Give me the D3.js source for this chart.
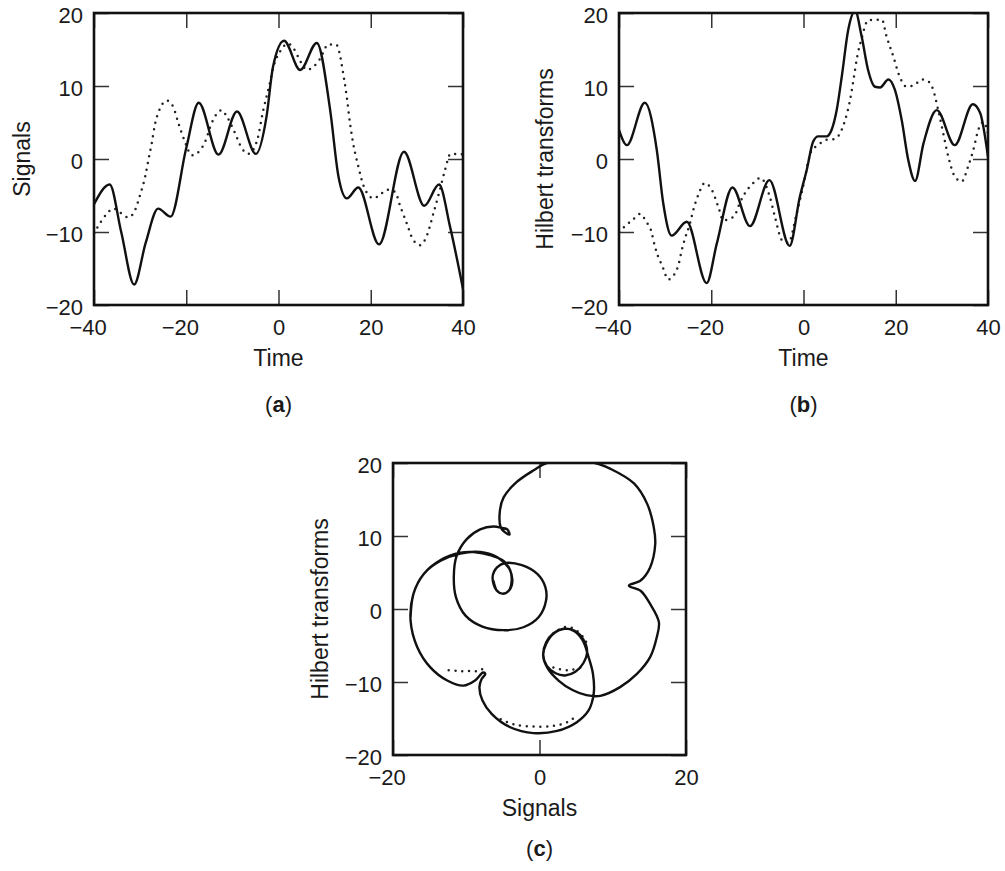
<!DOCTYPE html>
<html>
<head>
<meta charset="utf-8">
<script src="https://cdn.jsdelivr.net/npm/d3@7"></script>
<style>
  body { margin: 0; background: #fff; }
  svg text { font-family: "Liberation Sans", Arial, Helvetica, sans-serif; fill: #1a1a1a; }
</style>
</head>
<body>
<div id="chart"></div>
<script>
// ---- data ----
const timeTicks = [-40, -20, 0, 20, 40];
const valueTicks = [-20, -10, 0, 10, 20];
const signalTicks = [-20, 0, 20];

// (a) signals, solid
const solidTimeA = [-40, -36.6, -34.1, -31.3, -28.8, -26.1, -23.4, -20, -17.3, -13.0, -9.0, -4.9, -2.6, -1.2, 1.2, 4.7, 8.3, 11.2, 13.0, 14.8, 17.3, 21.8, 27.2, 31.6, 34.8, 37.2, 40];
const solidSignalA = [-6.2, -3.5, -10.0, -17.2, -11.5, -6.8, -7.9, 1.5, 7.7, 0.6, 6.5, 0.7, 5.8, 12.6, 16.2, 12.2, 15.9, 6.7, -2.4, -5.4, -3.9, -11.7, 1.0, -6.4, -3.5, -9.3, -17.8];

// (a) signals, dotted
const dotTimeA = [-40, -38.3, -37.2, -35.8, -32.6, -31.1, -30.0, -28.9, -28.2, -27.5, -26.8, -25.7, -24.2, -22.8, -21.7, -20.3, -18.8, -17.0, -15.9, -14.5, -12.3, -11.2, -9.4, -8.0, -6.5, -4.7, -3.3, -1.8, -1.1, 0.3, 2.1, 3.2, 5.0, 6.1, 7.5, 9.0, 10.8, 12.5, 13.2, 13.9, 14.8, 15.5, 16.2, 17.3, 18.4, 19.5, 20.6, 22.0, 23.5, 25.3, 26.3, 27.8, 29.2, 30.7, 32.1, 33.6, 35.0, 36.1, 37.3, 39.0, 40];
const dotSignalA = [-10.2, -8.4, -7.5, -6.8, -8.0, -7.0, -4.9, -2.4, -0.1, 2.1, 4.7, 6.9, 8.0, 7.1, 4.9, 2.4, 0.5, 1.2, 2.4, 4.9, 6.7, 5.8, 3.5, 1.5, 0.7, 2.4, 6.7, 10.6, 12.6, 14.7, 15.8, 15.2, 13.1, 12.2, 12.6, 13.7, 15.7, 15.7, 14.6, 12.2, 8.5, 4.9, 2.1, -1.0, -3.6, -4.9, -5.4, -4.9, -4.2, -4.5, -6.3, -8.8, -11.1, -11.8, -10.6, -7.4, -4.2, -1.5, 0.7, 0.7, 0.6];

// (b) Hilbert transforms, solid
const solidTimeB = [-40, -38.3, -34.4, -31.8, -30.4, -28.6, -25.3, -21.0, -18.8, -15.4, -11.6, -7.4, -3.0, -0.8, 0.7, 2.1, 3.2, 5.0, 6.1, 7.2, 8.3, 9.7, 11.2, 12.6, 14.0, 15.5, 16.6, 18.4, 19.8, 21.3, 22.7, 24.2, 26.0, 28.9, 32.8, 36.7, 38.3, 40];
const solidHilbertB = [4.0, 1.9, 7.7, 1.2, -6.1, -10.5, -8.6, -17.0, -11.6, -3.9, -9.2, -2.9, -11.9, -5.2, -1.5, 2.4, 3.1, 3.1, 4.0, 6.7, 11.3, 17.7, 20.3, 16.8, 12.2, 9.9, 9.8, 10.9, 9.5, 5.3, -0.1, -3.0, 2.1, 6.7, 1.9, 7.5, 6.3, 0.3];

// (b) Hilbert transforms, dotted
const dotTimeB = [-40, -38.7, -37.0, -35.4, -34.1, -33.1, -32.2, -31.5, -30.7, -29.3, -27.9, -27.1, -26.4, -25.7, -24.6, -23.9, -22.8, -21.4, -19.9, -18.5, -17.4, -15.1, -13.8, -12.7, -10.9, -9.3, -7.3, -6.2, -4.7, -3.3, -1.5, 0.3, 1.0, 1.8, 3.2, 4.7, 6.5, 7.9, 9.0, 10.1, 10.9, 11.7, 12.6, 14.0, 17.0, 18.0, 19.5, 20.6, 22.4, 24.2, 25.6, 27.1, 28.1, 29.2, 30.3, 31.4, 32.8, 34.3, 35.7, 36.8, 37.9, 39.0, 40];
const dotHilbertB = [-10.0, -9.2, -8.3, -7.5, -8.6, -9.7, -12.0, -13.4, -14.5, -16.5, -15.7, -14.5, -12.5, -10.9, -8.8, -7.0, -4.9, -3.3, -4.2, -6.5, -8.4, -7.9, -6.0, -4.7, -3.3, -2.6, -5.2, -7.9, -11.1, -11.5, -7.5, -2.6, -0.4, 1.2, 1.9, 2.6, 2.7, 3.5, 5.3, 8.1, 11.1, 14.2, 16.5, 19.0, 19.1, 16.8, 14.0, 11.7, 9.9, 10.2, 10.9, 10.6, 9.5, 6.7, 3.5, 0.3, -2.4, -3.1, -1.0, 1.2, 4.0, 5.1, 3.5];

// (c) Hilbert transform against signal, solid trace
const cSignal = [-6.3, -5.8, -5.1, -4.2, -3.8, -4.0, -4.7, -5.8, -8.1, -10.8, -13.5, -15.8, -17.2, -17.6, -16.7, -14.9, -12.6, -10.4, -8.8, -7.7, -7.4, -7.9, -8.2, -7.8, -6.5, -4.0, -0.8, 2.4, 5.1, 6.7, 7.4, 7.3, 6.7, 5.9, 4.7, 3.3, 1.9, 0.9, 0.5, 1.0, 2.2, 3.5, 4.9, 6.0, 6.5, 6.0, 4.8, 3.4, 2.0, 0.9, 0.5, 1.1, 2.6, 4.5, 6.4, 8.3, 11.0, 13.3, 15.1, 16.0, 16.3, 15.1, 13.8, 12.2, 13.8, 15.1, 15.8, 15.6, 14.7, 12.9, 9.7, 7.6, 4.2, 1.0, -0.8, -3.1, -4.9, -5.4, -5.3, -4.7, -4.1, -4.4, -5.1, -6.3, -8.1, -9.9, -11.3, -11.7, -11.4, -10.1, -7.8, -4.9, -2.2, -0.1, 0.9, 0.8, -0.3, -2.4, -4.7, -5.8, -6.4, -5.9, -5.0, -4.1, -3.7, -4.1, -4.9, -6.5, -9.0, -10.8, -13.5, -15.8, -17.2, -17.6];
const cHilbert = [3.9, 2.5, 2.1, 2.5, 3.9, 5.3, 6.2, 7.1, 7.8, 7.6, 6.6, 4.8, 2.1, -1.6, -5.2, -8.0, -9.8, -10.5, -9.8, -8.7, -8.9, -9.6, -10.7, -12.5, -14.4, -16.2, -17.0, -16.7, -15.5, -13.9, -11.6, -8.9, -6.6, -4.3, -3.0, -2.7, -3.3, -4.6, -6.2, -7.8, -8.8, -9.1, -8.6, -7.4, -5.8, -4.2, -3.0, -2.7, -3.3, -4.8, -6.4, -8.1, -9.8, -11.1, -11.8, -11.9, -10.7, -8.9, -6.6, -3.9, -1.8, 0.7, 2.5, 3.2, 3.9, 5.7, 8.9, 11.2, 14.4, 17.2, 19.2, 20.0, 20.3, 20.0, 19.0, 17.4, 15.3, 13.5, 11.2, 10.5, 10.2, 10.9, 11.1, 11.3, 10.9, 9.6, 7.3, 4.4, 1.6, -0.9, -2.4, -2.9, -2.5, -1.1, 1.2, 3.0, 4.8, 6.0, 6.3, 5.7, 4.4, 2.6, 2.1, 2.6, 3.9, 5.5, 6.6, 7.3, 7.8, 7.7, 6.7, 4.8, 2.1, -1.1];

// (c) dotted trace, only where it shows beside the solid one
const cDotSignal = [[-12.4, -11.0, -9.5, -8.0, -7.4], [-5.3, -3.5, -0.8, 1.9, 3.8, 5.1], [1.9, 3.3, 4.7, 6.0, 6.5], [1.9, 3.8, 5.6]];
const cDotHilbert = [[-8.4, -8.5, -8.5, -8.4, -7.5], [-15.1, -15.8, -16.1, -16.0, -15.5, -14.6], [-3.4, -2.5, -2.7, -3.9, -4.8], [-8.0, -8.4, -8.0]];

// ---- drawing ----
const svg = d3.select("#chart").append("svg")
    .attr("width", 1005)
    .attr("height", 871);

const fmt = d => d < 0 ? "\u2212" + Math.abs(d) : String(d);
const TICK = 15;

function drawPanel(p) {
    const x = d3.scaleLinear().domain(p.xDomain).range([p.left, p.right]);
    const y = d3.scaleLinear().domain([-20, 20]).range([p.bottom, p.top]);
    const g = svg.append("g");

    svg.append("clipPath").attr("id", "clip-" + p.tag)
        .append("rect")
        .attr("x", p.left).attr("y", p.top)
        .attr("width", p.right - p.left).attr("height", p.bottom - p.top);

    const axes = [
        g.append("g").attr("transform", `translate(0,${p.bottom})`)
            .call(d3.axisBottom(x).tickValues(p.xTicks).tickSizeInner(-TICK).tickSizeOuter(0).tickPadding(14).tickFormat(fmt)),
        g.append("g").attr("transform", `translate(0,${p.top})`)
            .call(d3.axisTop(x).tickValues(p.xTicks).tickSizeInner(-TICK).tickSizeOuter(0).tickFormat("")),
        g.append("g").attr("transform", `translate(${p.left},0)`)
            .call(d3.axisLeft(y).tickValues(valueTicks).tickSizeInner(-TICK).tickSizeOuter(0).tickPadding(11).tickFormat(fmt)),
        g.append("g").attr("transform", `translate(${p.right},0)`)
            .call(d3.axisRight(y).tickValues(valueTicks).tickSizeInner(-TICK).tickSizeOuter(0).tickFormat(""))
    ];
    axes.forEach(a => {
        a.attr("font-size", 22).attr("font-family", null).attr("color", "#1a1a1a");
        a.select(".domain").remove();
        a.selectAll(".tick line").attr("stroke", "#333").attr("stroke-width", 1.5);
    });
    // negative x labels: centre the digits, let the minus sign hang left
    axes[0].selectAll(".tick text").attr("dx", d => d < 0 ? -6.4 : 0);
    axes[2].selectAll(".tick text").attr("dy", "0.45em");

    const midX = (p.left + p.right) / 2, midY = (p.top + p.bottom) / 2;
    g.append("text")
        .attr("x", midX).attr("y", p.bottom + 53)
        .attr("text-anchor", "middle").attr("dominant-baseline", "central")
        .attr("font-size", 23)
        .text(p.xTitle);
    g.append("text")
        .attr("transform", `translate(${p.yTitleX},${midY}) rotate(-90)`)
        .attr("text-anchor", "middle").attr("dominant-baseline", "central")
        .attr("font-size", 23)
        .text(p.yTitle);
    const tag = g.append("text")
        .attr("x", midX).attr("y", p.tagY)
        .attr("text-anchor", "middle").attr("dominant-baseline", "central")
        .attr("font-size", 22);
    tag.append("tspan").text("(");
    tag.append("tspan").attr("font-weight", "bold").text(p.tag);
    tag.append("tspan").text(")");

    const plot = g.append("g").attr("clip-path", `url(#clip-${p.tag})`);
    return { x, y, g, plot, p };
}

function solid(sel, d) {
    sel.append("path").attr("d", d)
        .attr("fill", "none").attr("stroke", "#111")
        .attr("stroke-width", 2.4).attr("stroke-linejoin", "round");
}
function dotted(sel, d) {
    sel.append("path").attr("d", d)
        .attr("fill", "none").attr("stroke", "#222")
        .attr("stroke-width", 2.5).attr("stroke-linecap", "round")
        .attr("stroke-dasharray", "0 6.8");
}
function frame(panel) {
    const p = panel.p;
    panel.g.append("rect")
        .attr("x", p.left).attr("y", p.top)
        .attr("width", p.right - p.left).attr("height", p.bottom - p.top)
        .attr("fill", "none").attr("stroke", "#111").attr("stroke-width", 2.6);
}

// (a)
const pa = drawPanel({ tag: "a", left: 94, right: 463, top: 13, bottom: 305, xDomain: [-40, 40], xTicks: timeTicks,
    xTitle: "Time", yTitle: "Signals", yTitleX: 22, tagY: 404 });
const lineA = d3.line().x(d => pa.x(d[0])).y(d => pa.y(d[1])).curve(d3.curveMonotoneX);
dotted(pa.plot, lineA(d3.zip(dotTimeA, dotSignalA)));
solid(pa.plot, lineA(d3.zip(solidTimeA, solidSignalA)));
frame(pa);

// (b)
const pb = drawPanel({ tag: "b", left: 619, right: 988, top: 13, bottom: 305, xDomain: [-40, 40], xTicks: timeTicks,
    xTitle: "Time", yTitle: "Hilbert transforms", yTitleX: 545, tagY: 404 });
const lineB = d3.line().x(d => pb.x(d[0])).y(d => pb.y(d[1])).curve(d3.curveMonotoneX);
dotted(pb.plot, lineB(d3.zip(dotTimeB, dotHilbertB)));
solid(pb.plot, lineB(d3.zip(solidTimeB, solidHilbertB)));
frame(pb);

// (c)
const pc = drawPanel({ tag: "c", left: 393, right: 686, top: 463, bottom: 755, xDomain: [-20, 20], xTicks: signalTicks,
    xTitle: "Signals", yTitle: "Hilbert transforms", yTitleX: 320, tagY: 848 });
const lineC = d3.line().x(d => pc.x(d[0])).y(d => pc.y(d[1])).curve(d3.curveCatmullRom.alpha(0.5));
cDotSignal.forEach((xs, i) => dotted(pc.plot, lineC(d3.zip(xs, cDotHilbert[i]))));
solid(pc.plot, lineC(d3.zip(cSignal, cHilbert)));
frame(pc);
</script>
</body>
</html>
